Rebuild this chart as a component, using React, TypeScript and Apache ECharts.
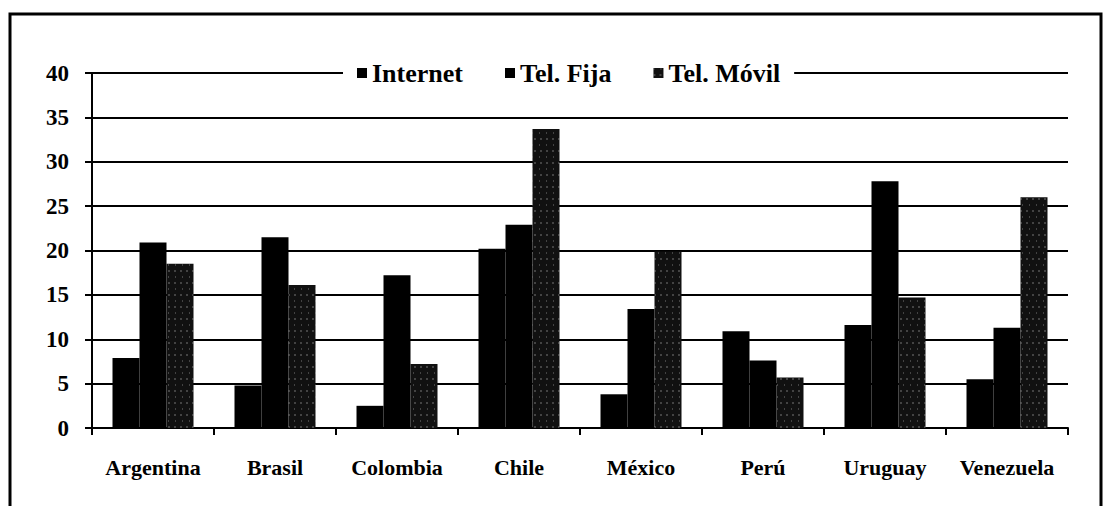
import React, { useEffect, useRef } from "react";
import * as echarts from "echarts";

const categories = ["Argentina", "Brasil", "Colombia", "Chile", "México", "Perú", "Uruguay", "Venezuela"];
const internet = [7.9, 4.8, 2.5, 20.2, 3.8, 10.9, 11.6, 5.5];
const telFija = [20.9, 21.5, 17.2, 22.9, 13.4, 7.6, 27.8, 11.3];
const telMovil = [18.5, 16.1, 7.2, 33.7, 19.9, 5.7, 14.7, 26.0];
const seriesNames = ["Internet", "Tel. Fija", "Tel. Móvil"];
const yTicks = { min: 0, max: 40, interval: 5 };

const FONT = "'Liberation Serif', 'Times New Roman', serif";

export default function App() {
  const ref = useRef<HTMLDivElement>(null);
  useEffect(() => {
    if (!ref.current) return;
    const chart = echarts.init(ref.current, undefined, { renderer: "svg" });
    const decal = {
      symbol: "rect",
      symbolSize: 0.6,
      color: "rgba(255,255,255,0.7)",
      dashArrayX: [[2, 4], [1, 6]],
      dashArrayY: [2, 4],
      rotation: 0,
    };
    chart.setOption({
      animation: false,
      backgroundColor: "#fff",
      graphic: [
        {
          type: "rect",
          shape: { x: 10, y: 14, width: 1091, height: 500 },
          style: { fill: "none", stroke: "#000", lineWidth: 3 },
          z: 100,
        },
      ],
      legend: {
        top: 58,
        left: 343,
        data: [
          { name: seriesNames[0], icon: "rect" },
          { name: seriesNames[1], icon: "rect" },
          { name: seriesNames[2], icon: "rect" },
        ],
        backgroundColor: "#fff",
        padding: [2, 14],
        itemGap: 42,
        itemWidth: 10,
        itemHeight: 10,
        textStyle: { fontFamily: FONT, fontWeight: "bold", fontSize: 26, color: "#000" },
        z: 10,
      },
      grid: { left: 92, right: 36, top: 73, bottom: 78, containLabel: false },
      xAxis: {
        type: "category",
        data: categories,
        axisLine: { lineStyle: { color: "#000", width: 2 } },
        axisTick: { show: true, interval: 0, length: 7, lineStyle: { color: "#000", width: 2 } },
        axisLabel: { interval: 0, hideOverlap: false, fontFamily: FONT, fontWeight: "bold", fontSize: 22, color: "#000", margin: 28 },
      },
      yAxis: {
        type: "value",
        min: yTicks.min,
        max: yTicks.max,
        interval: yTicks.interval,
        axisLine: { show: true, lineStyle: { color: "#000", width: 2 } },
        axisTick: { show: true, length: 7, lineStyle: { color: "#000", width: 2 } },
        splitLine: { lineStyle: { color: "#000", width: 2 } },
        axisLabel: { fontFamily: FONT, fontWeight: "bold", fontSize: 23, color: "#000", margin: 23 },
      },
      series: [
        { name: seriesNames[0], type: "bar", data: internet, barWidth: 27, barGap: "0%", itemStyle: { color: "#000" } },
        { name: seriesNames[1], type: "bar", data: telFija, barWidth: 27, barGap: "0%", itemStyle: { color: "#000" } },
        { name: seriesNames[2], type: "bar", data: telMovil, barWidth: 27, barGap: "0%", itemStyle: { color: "#111", decal } },
      ],
    });
    return () => chart.dispose();
  }, []);
  return <div ref={ref} style={{ position: "fixed", left: 0, top: 0, width: 1104, height: 506 }} />;
}
